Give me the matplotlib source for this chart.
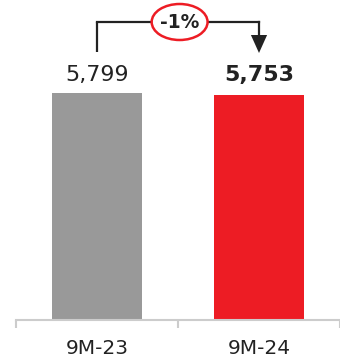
import matplotlib
matplotlib.use("Agg")
import matplotlib.pyplot as plt
from matplotlib.patches import Ellipse, Polygon
from matplotlib.transforms import blended_transform_factory

categories = ["9M-23", "9M-24"]
values = [5799, 5753]
value_labels = ["5,799", "5,753"]
change_label = "-1%"
bar_colors = ["#999999", "#ED1C24"]

W, H = 340, 361
fig = plt.figure(figsize=(W / 100, H / 100), dpi=100)
ax = fig.add_axes([16 / W, (H - 320) / H, (W - 16) / W, 320 / H])

x = list(range(len(categories)))
ax.bar(x, values, width=0.56, color=bar_colors, zorder=2)
ymax = values[0] * 320 / 227
ax.set_ylim(0, ymax)
ax.set_xlim(-0.5, len(categories) - 0.5)

for spine in ["top", "right", "left"]:
    ax.spines[spine].set_visible(False)
ax.spines["bottom"].set_color("#cccccc")
ax.spines["bottom"].set_linewidth(1.5)
ax.set_yticks([])
ax.set_xticks(x)
ax.set_xticklabels(categories, fontsize=14.5, color="#222222")
ax.tick_params(axis="x", length=0, pad=14)
ax.set_xticks([i - 0.5 for i in range(len(categories) + 1)], minor=True)
ax.tick_params(axis="x", which="minor", length=6, width=1.5, color="#cccccc")

label_y = max(values)
for i, lab in enumerate(value_labels):
    ax.annotate(lab, (i, label_y), xytext=(0, 8.3), textcoords="offset points",
                ha="center", va="baseline", fontsize=16,
                fontweight="bold" if i == 1 else "normal", color="#222222")

tr = blended_transform_factory(ax.transData, ax.transAxes)
def fy(ytop):
    return (320 - ytop) / 320

lc = "#222222"
lw = 1.6
yb = fy(22)
ax.plot([0, 0], [fy(52), yb], color=lc, lw=lw, transform=tr, clip_on=False, solid_capstyle="butt")
ax.plot([0, 0.335], [yb, yb], color=lc, lw=lw, transform=tr, clip_on=False)
ax.plot([0.69, 1.0], [yb, yb], color=lc, lw=lw, transform=tr, clip_on=False)
ax.plot([1.0, 1.0], [yb, fy(40)], color=lc, lw=lw, transform=tr, clip_on=False)
tri = Polygon([[1.0 - 0.05, fy(35)], [1.0 + 0.05, fy(35)], [1.0, fy(53)]],
              closed=True, facecolor=lc, edgecolor="none", transform=tr, clip_on=False)
ax.add_patch(tri)
ell = Ellipse((0.51, yb), width=0.345, height=36 / 320, facecolor="white",
              edgecolor="#ED1C24", lw=1.8, transform=tr, clip_on=False, zorder=3)
ax.add_patch(ell)
ax.text(0.51, yb, change_label, transform=tr, ha="center", va="center",
        fontsize=13.5, fontweight="bold", color="#222222", zorder=4)

fig.savefig("out.png", dpi=100)
